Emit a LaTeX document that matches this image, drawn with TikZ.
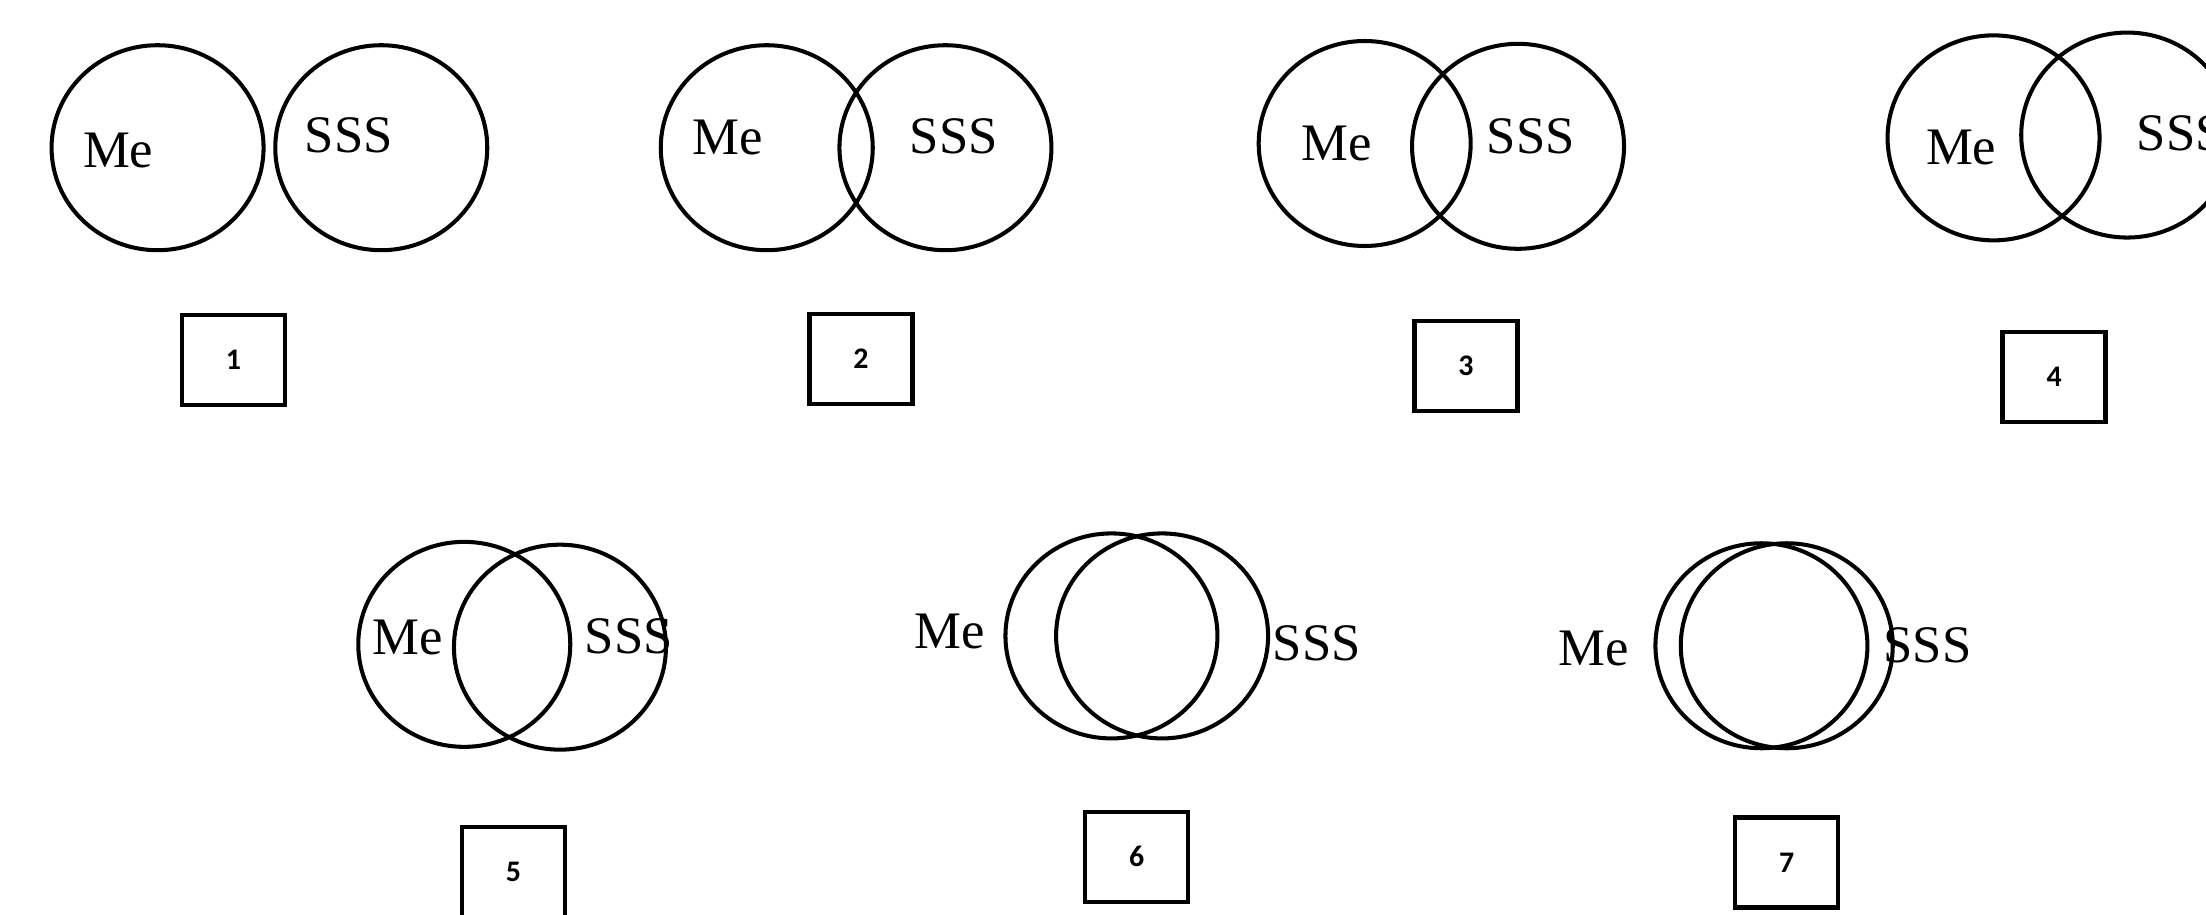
\documentclass[tikz,border=0pt]{standalone}
\usepackage{fontspec}
\usetikzlibrary{shapes.geometric}
\setmainfont{Liberation Serif}
\newfontfamily\boxfont{Carlito}
\begin{document}
\begin{tikzpicture}[x=0.01407cm,y=-0.01407cm,
  ring/.style={draw=black,line width=1.15pt,ellipse,minimum width=2.12cm,minimum height=2.05cm,inner sep=0pt},
  lbl/.style={font=\fontsize{15}{18}\selectfont,inner sep=0pt},
  numbox/.style={draw=black,line width=1.25pt,minimum width=1.03cm,minimum height=0.9cm,inner sep=0pt,font=\boxfont\bfseries\fontsize{8.5}{10}\selectfont}]
\useasboundingbox (0,0) rectangle (1568,650);
\clip (0,0) rectangle (1568,650);
% panel 1
\node[ring] (me1) at (112,105) {};
\node[ring] (s1) at (271,105) {};
\node[lbl] (tme1) at (84,107) {Me};
\node[lbl] (ts1) at (248,96) {SSS};
\node[numbox] (b1) at (166,256) {1};
% panel 2
\node[ring] (me2) at (545,105) {};
\node[ring] (s2) at (672,105) {};
\node[lbl] (tme2) at (517,98) {Me};
\node[lbl] (ts2) at (678,97) {SSS};
\node[numbox] (b2) at (612,255) {2};
% panel 3
\node[ring] (me3) at (970,102) {};
\node[ring] (s3) at (1079,104) {};
\node[lbl] (tme3) at (950,102) {Me};
\node[lbl] (ts3) at (1088,97) {SSS};
\node[numbox] (b3) at (1042,260) {3};
% panel 4
\node[ring] (me4) at (1417,98) {};
\node[ring] (s4) at (1512,96) {};
\node[lbl] (tme4) at (1394,105) {Me};
\node[lbl] (ts4) at (1550,95) {SSS};
\node[numbox] (b4) at (1460,268) {4};
% panel 5
\node[ring] (me5) at (330,458) {};
\node[ring] (s5) at (398,460) {};
\node[lbl] (tme5) at (290,453) {Me};
\node[lbl] (ts5) at (447,452) {SSS};
\node[numbox] (b5) at (365,620) {5};
% panel 6
\node[ring] (me6) at (790,452) {};
\node[ring] (s6) at (826,452) {};
\node[lbl] (tme6) at (675,449) {Me};
\node[lbl] (ts6) at (936,457) {SSS};
\node[numbox] (b6) at (808,609) {6};
% panel 7
\node[ring] (me7) at (1252,459) {};
\node[ring] (s7) at (1270,459) {};
\node[lbl] (tme7) at (1133,461) {Me};
\node[lbl] (ts7) at (1370,459) {SSS};
\node[numbox] (b7) at (1270,613) {7};
\end{tikzpicture}
\end{document}
